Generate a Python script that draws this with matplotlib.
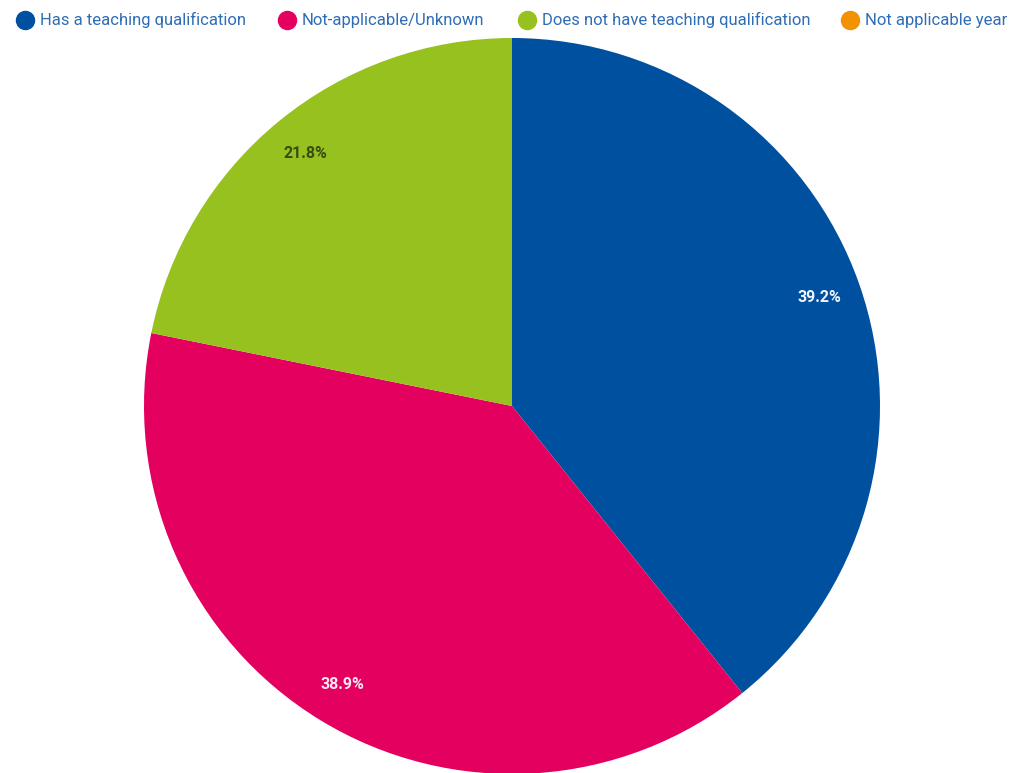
import matplotlib.pyplot as plt
from matplotlib.lines import Line2D
import numpy as np

# Data
labels = ["Has a teaching qualification", "Not-applicable/Unknown",
          "Does not have teaching qualification", "Not applicable year"]
values = [39.2, 38.9, 21.8, 0.0]
colors = ["#0050A0", "#E3005F", "#97C11F", "#F39200"]
label_colors = ["#F0F4FA", "#FCEAF1", "#3B4A14", "white"]

plt.rcParams['font.family'] = ['Roboto', 'DejaVu Sans']

fig = plt.figure(figsize=(10.11, 7.73), dpi=100)
R = 368
cx, cy = 512, 406
ax = fig.add_axes([(cx - R) / 1011, (773 - cy - R) / 773, 2 * R / 1011, 2 * R / 773])

wedges, texts = ax.pie(values, colors=colors, startangle=90, counterclock=False,
                       radius=1, wedgeprops=dict(linewidth=0))

# percentage labels
for w, v, c in zip(wedges, values, label_colors):
    if v <= 0:
        continue
    ang = np.deg2rad((w.theta1 + w.theta2) / 2)
    ax.text(0.885 * np.cos(ang), 0.885 * np.sin(ang), f"{v:.1f}%", color=c,
            ha='center', va='center', fontsize=11.5, fontweight='bold')

ax.set_xlim(-1, 1)
ax.set_ylim(-1, 1)
ax.set_aspect('equal')
ax.axis('off')

# legend along the top
leg_x = [25, 287, 527, 850]
for x, lab, col in zip(leg_x, labels, colors):
    fig.add_artist(Line2D([x / 1011], [1 - 20 / 773], marker='o', markersize=13,
                          color=col, linestyle='none', transform=fig.transFigure))
    fig.text((x + 15) / 1011, 1 - 20 / 773, lab, color="#2F6DB5", fontsize=12,
             ha='left', va='center')

fig.savefig("out.png", dpi=100)
